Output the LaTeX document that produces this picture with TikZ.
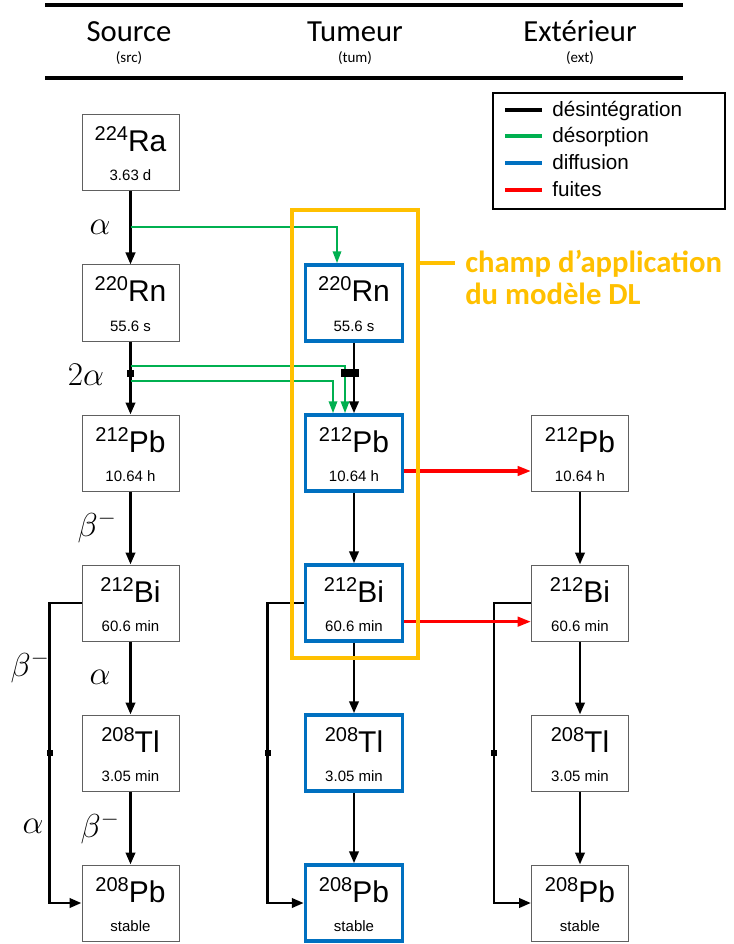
\documentclass[tikz,border=0pt]{standalone}
\usepackage{fontspec}
\setmainfont{Liberation Sans}
\newfontfamily\calibri{Carlito}
\usetikzlibrary{arrows.meta,calc}

\definecolor{dgreen}{HTML}{00B050}
\definecolor{dblue}{HTML}{0070C0}
\definecolor{dred}{HTML}{FF0000}
\definecolor{dorange}{HTML}{FFC000}
\definecolor{boxgray}{HTML}{606060}

\tikzset{
  nucbox/.style={draw=boxgray, line width=0.75pt, minimum width=72.75pt, minimum height=57pt, inner sep=0pt},
  tumbox/.style={draw=dblue, line width=2.6pt, minimum width=72.75pt, minimum height=57pt, inner sep=0pt},
  symtext/.style={inner sep=0pt, font=\fontsize{22.5}{22.5}\selectfont},
  halftext/.style={inner sep=0pt, font=\fontsize{11.25}{11.25}\selectfont},
  decay/.style={line width=2.1pt, -{Triangle[length=9pt,width=7pt]}},
  desorb/.style={dgreen, line width=1.7pt, -{Triangle[length=9pt,width=6.25pt]}},
  leak/.style={dred, line width=2.3pt, -{Triangle[length=10pt,width=7pt]}},
  greek/.style={inner sep=0pt, font=\fontsize{24}{24}\selectfont},
  junction/.style={fill=black, inner sep=0pt, minimum size=5.25pt},
  smalljunction/.style={fill=black, inner sep=0pt, minimum size=4.75pt},
  head/.style={inner sep=0pt, font=\calibri\fontsize{23}{23}\selectfont},
  subhead/.style={inner sep=0pt, font=\calibri\fontsize{11.25}{11.25}\selectfont},
  legtext/.style={inner sep=0pt, anchor=base west, font=\fontsize{15.5}{15.5}\selectfont},
  legline/.style={line width=2.4pt},
  dltext/.style={inner sep=0pt, anchor=base west, text=dorange, font=\calibri\bfseries\fontsize{23}{23}\selectfont},
}

% style, name, centre x, top y, mass number, symbol, half-life
\newcommand\nuclide[7]{%
  \node[#1] (#2) at (#3,{#4+38}) {};
  \node[symtext, anchor=base] (#2-s) at (#3,{#4+37})
    {\raisebox{8.25pt}{\fontsize{15}{15}\selectfont #5}#6};
  \node[halftext, anchor=base] (#2-t) at (#3,{#4+66}) {#7};
}

\begin{document}
\begin{tikzpicture}[x=0.75pt, y=-0.75pt]
\useasboundingbox (0,0) rectangle (733,944);

% column headers
\draw[line width=2.5pt] (45,5) -- (683,5);
\draw[line width=2.5pt] (45,78) -- (683,78);
\node[head, anchor=base] (hsrc) at (129,42) {Source};
\node[subhead, anchor=base] (hsrc2) at (129,63) {(src)};
\node[head, anchor=base] (htum) at (355,42) {Tumeur};
\node[subhead, anchor=base] (htum2) at (355,63) {(tum)};
\node[head, anchor=base] (hext) at (580,42) {Extérieur};
\node[subhead, anchor=base] (hext2) at (580,63) {(ext)};

% legend
\node[draw, line width=2.2pt, minimum width=174pt, minimum height=87pt, inner sep=0pt] (legend) at (609,151) {};
\draw[legline, black]  (505,110) -- (542,110);
\draw[legline, dgreen] (505,136) -- (542,136);
\draw[legline, dblue]  (505,163) -- (542,163);
\draw[legline, dred]   (505,190) -- (542,190);
\node[legtext] (lg1) at (552,117) {désintégration};
\node[legtext] (lg2) at (552,143) {désorption};
\node[legtext] (lg3) at (552,170) {diffusion};
\node[legtext] (lg4) at (552,197) {fuites};

% source column
\nuclide{nucbox}{sRa}{130.5}{115}{224}{Ra}{3.63 d}
\nuclide{nucbox}{sRn}{130.5}{265}{220}{Rn}{55.6 s}
\nuclide{nucbox}{sPb}{130.5}{415}{212}{Pb}{10.64 h}
\nuclide{nucbox}{sBi}{130.5}{565}{212}{Bi}{60.6 min}
\nuclide{nucbox}{sTl}{130.5}{715}{208}{Tl}{3.05 min}
\nuclide{nucbox}{sPbs}{130.5}{865}{208}{Pb}{stable}

% tumour column
\nuclide{tumbox}{tRn}{354}{265}{220}{Rn}{55.6 s}
\nuclide{tumbox}{tPb}{354}{415}{212}{Pb}{10.64 h}
\nuclide{tumbox}{tBi}{354}{565}{212}{Bi}{60.6 min}
\nuclide{tumbox}{tTl}{354}{715}{208}{Tl}{3.05 min}
\nuclide{tumbox}{tPbs}{354}{865}{208}{Pb}{stable}

% outside column
\nuclide{nucbox}{ePb}{580}{415}{212}{Pb}{10.64 h}
\nuclide{nucbox}{eBi}{580}{565}{212}{Bi}{60.6 min}
\nuclide{nucbox}{eTl}{580}{715}{208}{Tl}{3.05 min}
\nuclide{nucbox}{ePbs}{580}{865}{208}{Pb}{stable}

% decay chains
\draw[decay] (sRa.south) -- (sRn.north);
\draw[decay] (sRn.south) -- (sPb.north);
\draw[decay] (sPb.south) -- (sBi.north);
\draw[decay] (sBi.south) -- (sTl.north);
\draw[decay] (sTl.south) -- (sPbs.north);
\draw[decay] (sBi.west) -- ++(-24pt,0) |- (sPbs.west);

\draw[decay] (tRn.south) -- (tPb.north);
\draw[decay] (tPb.south) -- (tBi.north);
\draw[decay] (tBi.south) -- (tTl.north);
\draw[decay] (tTl.south) -- (tPbs.north);
\draw[decay] (tBi.west) -- ++(-27pt,0) |- (tPbs.west);

\draw[decay] (ePb.south) -- (eBi.north);
\draw[decay] (eBi.south) -- (eTl.north);
\draw[decay] (eTl.south) -- (ePbs.north);
\draw[decay] (eBi.west) -- ++(-27.75pt,0) |- (ePbs.west);

% desorption from the source
\coordinate (ja) at (130.5,227);
\coordinate (jb1) at (130.5,366);
\coordinate (jb2) at (130.5,381);
\draw[desorb] (ja) -| ([xshift=-12.75pt]tRn.north);
\draw[desorb] (jb1) -| ([xshift=-6.75pt]tPb.north);
\draw[desorb] (jb2) -| ([xshift=-15.75pt]tPb.north);

% branching marks
\node[junction] (jsrc) at (130.5,373) {};
\node[fill=black, inner sep=0pt, minimum width=13.5pt, minimum height=6pt] (jtum) at (350,373) {};
\node[smalljunction] (bsrc) at (50,753) {};
\node[smalljunction] (btum) at (268,753) {};
\node[smalljunction] (bext) at (494,753) {};

% leakage
\draw[leak] ([yshift=-13.5pt]tPb.east) -- ([yshift=-13.5pt]ePb.west);
\draw[leak] ([yshift=-14pt]tBi.east) -- ([yshift=-14pt]eBi.west);

% decay labels
\node[greek] (la1) at (100,227) {$\alpha$};
\node[greek] (la2) at (86,375) {$2\alpha$};
\node[greek] (lb1) at (97,527) {$\beta^-$};
\node[greek] (la3) at (100,677) {$\alpha$};
\node[greek] (lb2) at (100,828) {$\beta^-$};
\node[greek] (lb3) at (30,667) {$\beta^-$};
\node[greek] (la4) at (33,826) {$\alpha$};

% scope of the DL model
\node[draw=dorange, line width=3pt, minimum width=94.5pt, minimum height=336pt, inner sep=0pt] (dlframe) at (355,434) {};
\node[dltext] (dl1) at (465,273) {champ d’application};
\node[dltext] (dl2) at (465,305) {du modèle DL};
\coordinate (dlc) at (455,263);
\draw[dorange, line width=3pt] (dlframe.east |- dlc) -- (dlc);
\end{tikzpicture}
\end{document}
